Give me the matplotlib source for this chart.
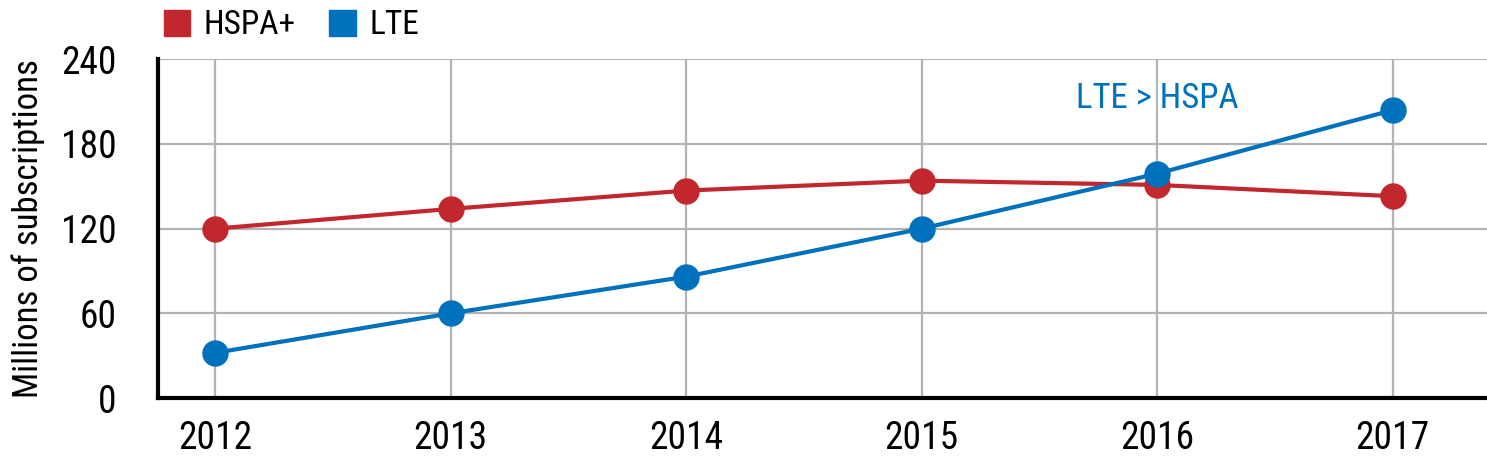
import numpy as np
import matplotlib
matplotlib.use('Agg')
import matplotlib.pyplot as plt
from matplotlib import font_manager
from matplotlib.patches import Patch

# Data
years = [2012, 2013, 2014, 2015, 2016, 2017]
hspa = [120, 134, 147, 154, 151, 143]
lte = [32, 60, 86, 120, 159, 204]
yticks = [0, 60, 120, 180, 240]

red = '#c1272d'
blue = '#0071bc'

# pick a narrow font if one is installed
names = {f.name for f in font_manager.fontManager.ttflist}
family = 'DejaVu Sans'
for cand in ['Roboto Condensed', 'Liberation Sans Narrow', 'Open Sans Condensed',
             'DejaVu Sans Condensed']:
    if cand in names:
        family = cand
        break
plt.rcParams['font.family'] = [family, 'DejaVu Sans']
narrow = family != 'DejaVu Sans'
fs = 27 if narrow else 21

fig = plt.figure(figsize=(14.87, 4.57), dpi=100)
ax = fig.add_axes([0.1063, 0.1291, 0.8937, 0.7411])

ax.plot(years, hspa, color=red, lw=3, marker='o', ms=18, zorder=3, clip_on=False)
ax.plot(years, lte, color=blue, lw=3, marker='o', ms=18, zorder=4, clip_on=False)

ax.set_xlim(2011.758, 2017.40)
ax.set_ylim(0, 240)
ax.set_xticks(years)
ax.set_yticks(yticks)
ax.grid(True, color='#b3b3b3', lw=1.6)
ax.set_axisbelow(True)
ax.tick_params(length=0, labelsize=fs)
ax.tick_params(axis='y', pad=30)
ax.tick_params(axis='x', pad=16)
for s in ['top', 'right']:
    ax.spines[s].set_visible(False)
for s in ['left', 'bottom']:
    ax.spines[s].set_linewidth(3)
    ax.spines[s].set_color('black')

ax.set_ylabel('Millions of subscriptions', fontsize=fs - 2)
ax.yaxis.set_label_coords(-0.085, 0.5)

ax.text(2016, 212, 'LTE > HSPA', color=blue, fontsize=fs - 2, ha='center', va='center')

handles = [Patch(color=red, label='HSPA+'), Patch(color=blue, label='LTE')]
fig.legend(handles=handles, loc='upper left', bbox_to_anchor=(0.09, 1.045), ncol=2,
           frameon=False, fontsize=fs - 3, handlelength=0.8, handleheight=0.8,
           handletextpad=0.4, columnspacing=1.0)

fig.savefig('out.png', dpi=100)
